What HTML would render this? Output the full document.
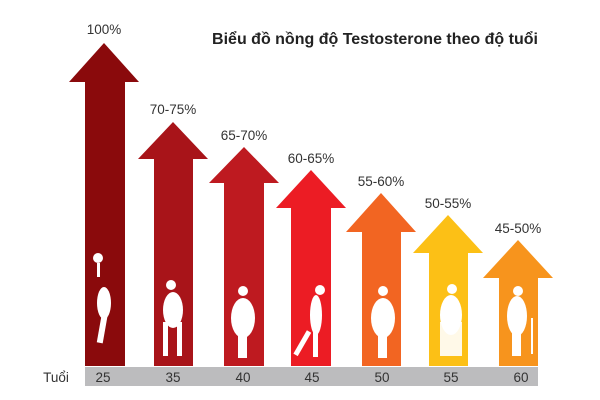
<!DOCTYPE html>
<html><head><meta charset="utf-8"><style>
body{margin:0;background:#fff;width:600px;height:400px;overflow:hidden}
svg{display:block}
text{font-family:"Liberation Sans","Noto Sans CJK SC",sans-serif}
</style></head><body>
<svg width="600" height="400" viewBox="0 0 600 400">
<rect x="85" y="367" width="453" height="19" fill="#bcbcbe"/>
<g font-size="13.5" fill="#333" text-anchor="middle">
<text x="56" y="382">Tuổi</text>
<text x="103" y="382">25</text><text x="173" y="382">35</text><text x="243" y="382">40</text>
<text x="312" y="382">45</text><text x="382" y="382">50</text><text x="451" y="382">55</text><text x="521" y="382">60</text>
</g>
<text x="375" y="44" font-size="16" font-weight="bold" fill="#222" text-anchor="middle">Biểu đồ nồng độ Testosterone theo độ tuổi</text>
<g>
<polygon points="104,43 139,82 125,82 125,366 85,366 85,82 69,82" fill="#8a0a0c"/>
<polygon points="173,122 208,159 193,159 193,366 154,366 154,159 138,159" fill="#a81419"/>
<polygon points="244,147 279,183 264,183 264,366 224,366 224,183 209,183" fill="#be1a20"/>
<polygon points="311,170 346,208 331,208 331,366 291,366 291,208 276,208" fill="#ec1c24"/>
<polygon points="381,193 416,232 401,232 401,366 362,366 362,232 346,232" fill="#f26522"/>
<polygon points="448,215 483,253 468,253 468,366 429,366 429,253 413,253" fill="#fcc016"/>
<polygon points="518,240 553,278 538,278 538,366 499,366 499,278 483,278" fill="#f7941d"/>
</g>
<g font-size="13.5" fill="#333" text-anchor="middle">
<text x="104" y="34">100%</text><text x="173" y="114">70-75%</text><text x="244" y="140">65-70%</text>
<text x="311" y="163">60-65%</text><text x="381" y="186">55-60%</text><text x="448" y="208">50-55%</text><text x="518" y="233">45-50%</text>
</g>
<g fill="#fff">
<circle cx="98" cy="258" r="5"/><rect x="97" y="263" width="3" height="14"/>
<ellipse cx="104" cy="303" rx="7" ry="16"/><rect x="99" y="315" width="6" height="28" transform="rotate(10 102 330)"/>
<circle cx="171" cy="285" r="5"/><ellipse cx="173" cy="310" rx="10" ry="18"/><rect x="163" y="322" width="5" height="34"/><rect x="177" y="322" width="5" height="34"/>
<circle cx="243" cy="291" r="5"/><ellipse cx="243" cy="318" rx="12" ry="20"/><rect x="238" y="330" width="9" height="28"/>
<circle cx="320" cy="290" r="5"/><ellipse cx="316" cy="315" rx="6" ry="20"/><rect x="313" y="325" width="5" height="32"/><rect x="300" y="330" width="5" height="27" transform="rotate(30 303 343)"/>
<circle cx="383" cy="291" r="5"/><ellipse cx="383" cy="318" rx="12" ry="20"/><rect x="378" y="330" width="9" height="28"/>
<circle cx="452" cy="289" r="5"/><ellipse cx="451" cy="315" rx="11" ry="20"/><rect x="440" y="322" width="22" height="34" opacity=".9"/>
<circle cx="518" cy="291" r="5"/><ellipse cx="517" cy="316" rx="10" ry="20"/><rect x="512" y="328" width="9" height="28"/><rect x="531" y="318" width="2" height="36"/>
</g>
</svg>
</body></html>
